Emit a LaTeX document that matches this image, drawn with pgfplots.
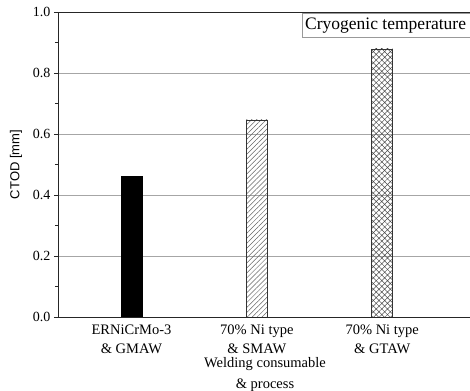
\documentclass[border=0pt]{standalone}
\usepackage{pgfplots}
\pgfplotsset{compat=1.18}
\usepackage{fontspec}
\setmainfont{Liberation Serif}
\newfontfamily\labelsans{Liberation Sans}
\usetikzlibrary{patterns.meta}

\begin{document}
\begin{tikzpicture}
% the frame is open on the right: the plot area runs past the picture edge
\useasboundingbox (-58bp,-74bp) rectangle (412bp,317bp);
\clip (-58bp,-74bp) rectangle (412bp,317bp);
\begin{axis}[
  at={(0,0)}, anchor=south west,
  scale only axis,
  width=414bp, height=305bp,
  xmin=0.414, xmax=3.716,
  ymin=0, ymax=1.0,
  axis line style={draw=none},
  xtick={1,2,3},
  xticklabels={{ERNiCrMo-3\\\& GMAW},{70\% Ni type\\\& SMAW},{70\% Ni type\\\& GTAW}},
  xticklabel style={align=center, font=\fontsize{14.5bp}{18.5bp}\selectfont, inner sep=0pt, yshift=-4bp},
  major x tick style={draw=none},
  ytick={0,0.2,0.4,0.6,0.8,1.0},
  yticklabels={0.0,0.2,0.4,0.6,0.8,1.0},
  yticklabel style={font=\fontsize{14bp}{16bp}\selectfont},
  ytick pos=left,
  minor y tick num=1,
  tick align=outside,
  major tick length=4bp,
  minor tick length=3bp,
  tick style={black!85, line width=0.7bp},
  ymajorgrids,
  grid style={gray!70, line width=0.7bp},
  ylabel={\labelsans CTOD [mm]},
  ylabel style={at={(axis description cs:-0.1014,0.5)}, anchor=center, font=\fontsize{13bp}{15bp}\selectfont},
  xlabel={Welding consumable\\\& process},
  xlabel style={at={(axis description cs:0.5,0)}, anchor=north, yshift=-40bp, align=center, inner sep=0pt, font=\fontsize{14.5bp}{21bp}\selectfont},
  ybar, bar width=21bp, bar shift=0pt,
]
% filler metal / welding process results at cryogenic temperature
\addplot[draw=black, fill=black] coordinates {(1,0.462)};
\addplot[draw=black!80, line width=0.6bp, pattern={Lines[angle=45,distance=3.5bp,line width=0.5bp]}, pattern color=black!60] coordinates {(2,0.646)};
\addplot[draw=black!80, line width=0.6bp, pattern={Hatch[angle=45,distance=4bp,line width=0.5bp]}, pattern color=black!70] coordinates {(3,0.879)};

% left, bottom and top spines
\draw[black!85, line width=0.8bp] (rel axis cs:1,1) -- (rel axis cs:0,1) -- (rel axis cs:0,0) -- (rel axis cs:1,0);
\end{axis}
\node[draw=gray!80, fill=white, anchor=north west, inner xsep=3bp, inner ysep=2bp, minimum height=24bp,
      font=\fontsize{17.5bp}{20bp}\selectfont]
  at (244bp,304bp) {Cryogenic temperature\hspace*{8bp}};
\end{tikzpicture}
\end{document}
